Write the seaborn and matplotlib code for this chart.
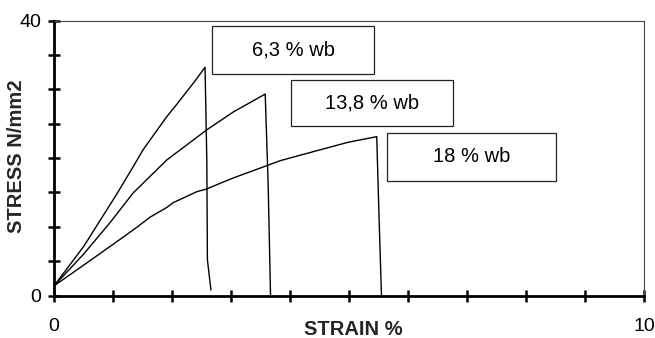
import matplotlib
matplotlib.use("Agg")
import matplotlib.pyplot as plt
from matplotlib.patches import Rectangle
import seaborn as sns
import pandas as pd

# ---- data ----
series_names = ["6,3 % wb", "13,8 % wb", "18 % wb"]

strain_63 = [0.0, 0.5, 0.78, 1.06, 1.34, 1.51, 1.91, 2.08, 2.39, 2.56, 2.59, 2.60, 2.66]
stress_63 = [1.4, 7.1, 10.9, 14.7, 18.7, 21.2, 26.0, 27.8, 31.2, 33.2, 19.7, 5.2, 0.8]

strain_138 = [0.0, 0.5, 0.95, 1.34, 1.91, 2.59, 3.04, 3.58, 3.63, 3.67]
stress_138 = [1.4, 6.0, 10.6, 14.9, 19.7, 24.1, 26.7, 29.3, 16.1, 0.1]

strain_18 = [0.0, 0.5, 1.06, 1.40, 1.63, 1.91, 2.02, 2.42, 2.59, 2.81, 3.04,
             3.61, 3.83, 4.17, 4.73, 4.99, 5.41, 5.47, 5.51, 5.55]
stress_18 = [1.4, 4.4, 7.8, 9.9, 11.4, 12.8, 13.5, 15.1, 15.5, 16.3, 17.1,
             18.9, 19.6, 20.4, 21.7, 22.3, 23.0, 23.1, 11.2, 0.1]

x_ticks = [0, 1, 2, 3, 4, 5, 6, 7, 8, 9, 10]
x_tick_labels = ["0", "", "", "", "", "", "", "", "", "", "10"]
y_ticks = [0, 5, 10, 15, 20, 25, 30, 35, 40]
y_tick_labels = ["0", "", "", "", "", "", "", "", "40"]

x_label = "STRAIN %"
y_label = "STRESS N/mm2"

# ---- build long table ----
frames = []
for name, xs, ys in zip(series_names,
                        [strain_63, strain_138, strain_18],
                        [stress_63, stress_138, stress_18]):
    frames.append(pd.DataFrame({"strain": xs, "stress": ys, "series": name}))
df = pd.concat(frames, ignore_index=True)

sns.set_style("white")
plt.rcParams["font.family"] = ["Liberation Sans", "DejaVu Sans"]

fig = plt.figure(figsize=(6.55, 3.38), dpi=100)
ax = fig.add_axes([54 / 655, 1 - 295.5 / 338, 590 / 655, 275 / 338])

sns.lineplot(data=df, x="strain", y="stress", units="series", estimator=None,
             sort=False, color="black", linewidth=1.0, ax=ax, legend=False)

ax.set_xlim(0, 10)
ax.set_ylim(0, 40)
ax.set_xticks(x_ticks)
ax.set_xticklabels(x_tick_labels)
ax.set_yticks(y_ticks)
ax.set_yticklabels(y_tick_labels)

ax.tick_params(axis="both", direction="inout", length=8.5, width=1.8,
               color="black", labelsize=14, labelcolor="black",
               bottom=True, left=True, top=False, right=False)
ax.tick_params(axis="x", pad=12)
ax.tick_params(axis="y", pad=5)

for side in ["left", "bottom"]:
    ax.spines[side].set_linewidth(2.0)
    ax.spines[side].set_color("black")
for side in ["top", "right"]:
    ax.spines[side].set_visible(True)
    ax.spines[side].set_linewidth(0.8)
    ax.spines[side].set_color("#444444")

ax.set_xlabel(x_label, fontsize=14.5, fontweight="bold")
ax.set_ylabel(y_label, fontsize=14.5, fontweight="bold")
ax.xaxis.set_label_coords(0.507, -0.088)
ax.yaxis.set_label_coords(-0.047, 0.505)

# text boxes (label boxes)
boxes = [(2.68, 32.2, 2.75, 7.0), (4.01, 24.65, 2.75, 6.7), (5.64, 16.65, 2.87, 7.0)]
for name, (bx, by, bw, bh) in zip(series_names, boxes):
    ax.add_patch(Rectangle((bx, by), bw, bh, fill=False, edgecolor="#222222",
                           linewidth=0.9, clip_on=False))
    ax.text(bx + bw / 2, by + bh / 2, name, ha="center", va="center",
            fontsize=14.5, color="black")

fig.savefig("out.png", dpi=100, facecolor="white")
